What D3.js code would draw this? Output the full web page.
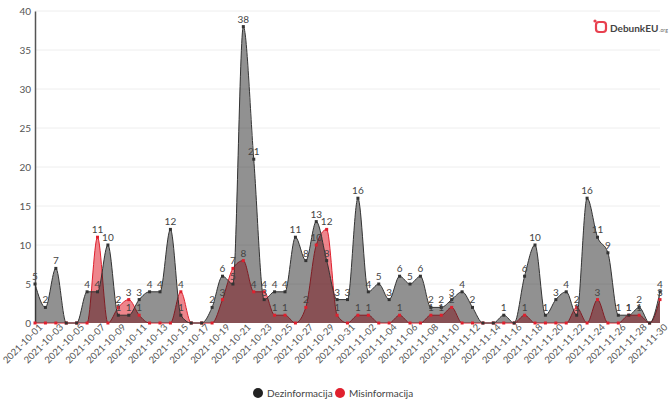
<!DOCTYPE html>
<html>
<head>
<meta charset="utf-8">
<script src="https://cdn.jsdelivr.net/npm/d3@7"></script>
<style>
  body { margin: 0; background: #fff; font-family: Lato, "Open Sans", sans-serif; }
  svg text { font-family: Lato, "Open Sans", sans-serif; }
</style>
</head>
<body>
<div id="chart"></div>
<script>
var width = 670;
var height = 402;
var margin = {top: 11, left: 35, right: 10, bottom: 79};

var startDate = "2021-10-01";
var dezinformacija = [5, 2, 7, 0, 0, 4, 4, 10, 1, 1, 3, 4, 4, 12, 1, 0, 0, 2, 6, 5,
                      38, 21, 3, 4, 4, 11, 8, 13, 8, 3, 3, 16, 4, 5, 3, 6, 5, 6, 2, 2,
                      3, 4, 2, 0, 0, 1, 0, 6, 10, 1, 3, 4, 1, 16, 11, 9, 1, 1, 2, 0, 4];
var misinformacija = [0, 0, 0, 0, 0, 0, 11, 0, 2, 3, 1, 0, 0, 0, 4, 0, 0, 0, 3, 7,
                      8, 4, 4, 1, 1, 0, 2, 10, 12, 1, 0, 1, 1, 0, 0, 1, 0, 0, 1, 1,
                      2, 0, 0, 0, 0, 0, 0, 1, 0, 0, 0, 0, 2, 0, 3, 0, 0, 1, 1, 0, 3];
var yTicks = [0, 5, 10, 15, 20, 25, 30, 35, 40];
var seriesNames = ["Dezinformacija", "Misinformacija"];

var parse = d3.timeParse("%Y-%m-%d");
var fmt = d3.timeFormat("%Y-%m-%d");
var dates = dezinformacija.map(function(d, i) { return d3.timeDay.offset(parse(startDate), i); });

var svg = d3.select("#chart").append("svg")
  .attr("width", width)
  .attr("height", height);

var xScale = d3.scaleTime()
  .domain(d3.extent(dates))
  .range([margin.left, 660]);
var yScale = d3.scaleLinear()
  .domain([0, 40])
  .range([height - margin.bottom, margin.top]);

// grid
svg.append("g").selectAll("line")
  .data(yTicks.slice(1))
  .enter().append("line")
    .attr("x1", margin.left)
    .attr("x2", width - margin.right)
    .attr("y1", function(d) { return yScale(d); })
    .attr("y2", function(d) { return yScale(d); })
    .attr("stroke", "#eeeeee");

var yAxis = svg.append("g")
  .attr("transform", `translate(${margin.left},0)`)
  .call(d3.axisLeft(yScale).tickValues(yTicks).tickSize(0).tickPadding(4));
yAxis.select(".domain").attr("stroke", "#555").attr("stroke-width", 1.5);
yAxis.selectAll("text").attr("fill", "#555").attr("font-size", 10);

var xTicks = dates.filter(function(d, i) { return i % 2 == 0; });
var xAxis = svg.append("g")
  .attr("transform", `translate(0,${height - margin.bottom})`)
  .call(d3.axisBottom(xScale).tickValues(xTicks).tickFormat(fmt).tickSize(0).tickPadding(6));
xAxis.select(".domain").remove();
xAxis.selectAll("text")
  .attr("fill", "#555")
  .attr("font-size", 9.5)
  .attr("text-anchor", "end")
  .attr("dx", "0.2em")
  .attr("dy", "0.3em")
  .attr("transform", "rotate(-45)");

var area = d3.area()
  .curve(d3.curveMonotoneX)
  .x(function(d, i) { return xScale(dates[i]); })
  .y0(yScale(0))
  .y1(function(d) { return yScale(d); });
var line = d3.line()
  .curve(d3.curveMonotoneX)
  .x(function(d, i) { return xScale(dates[i]); })
  .y(function(d) { return yScale(d); });

var series = [
  {name: seriesNames[1], values: misinformacija, fill: "#e0202e", fillOpacity: 0.55, stroke: "#e0202e"},
  {name: seriesNames[0], values: dezinformacija, fill: "#1a1a1a", fillOpacity: 0.48, stroke: "#333333"}
];

series.forEach(function(s) {
  svg.append("path")
    .datum(s.values)
    .attr("d", area)
    .attr("fill", s.fill)
    .attr("fill-opacity", s.fillOpacity);
  svg.append("path")
    .datum(s.values)
    .attr("d", line)
    .attr("fill", "none")
    .attr("stroke", s.stroke)
    .attr("stroke-width", 1);
});

series.forEach(function(s) {
  svg.append("g").selectAll("rect")
    .data(s.values)
    .enter().append("rect")
      .attr("x", function(d, i) { return xScale(dates[i]) - 1.5; })
      .attr("y", function(d) { return yScale(d) - 1.5; })
      .attr("width", 3)
      .attr("height", 3)
      .attr("fill", s.stroke);
});

// value labels (zeros are not labelled)
series.forEach(function(s) {
  var pts = s.values.map(function(v, i) { return {v: v, date: dates[i]}; })
    .filter(function(p) { return p.v > 0; });
  svg.append("g").selectAll("text")
    .data(pts)
    .enter().append("text")
      .attr("x", function(p) { return xScale(p.date); })
      .attr("y", function(p) { return yScale(p.v) - 4; })
      .attr("text-anchor", "middle")
      .attr("font-size", 10)
      .attr("fill", "#444")
      .text(function(p) { return p.v; });
});

// legend
var legend = svg.append("g")
  .attr("transform", `translate(${width / 2 - 82},393)`);
var legItem = legend.selectAll("g")
  .data([{name: seriesNames[0], color: "#222"}, {name: seriesNames[1], color: "#e0202e"}])
  .enter().append("g")
    .attr("transform", function(d, i) { return `translate(${i * 82},0)`; });
legItem.append("circle")
  .attr("r", 5)
  .attr("cx", 5)
  .attr("fill", function(d) { return d.color; });
legItem.append("text")
  .attr("x", 14)
  .attr("dy", "0.35em")
  .attr("font-size", 10)
  .attr("fill", "#444")
  .text(function(d) { return d.name; });

// logo
var logo = svg.append("g").attr("transform", "translate(596,28)");
logo.append("rect")
  .attr("x", 0).attr("y", -6).attr("width", 10).attr("height", 10).attr("rx", 3)
  .attr("fill", "none").attr("stroke", "#e8404f").attr("stroke-width", 2.2);
logo.append("circle").attr("cx", -1).attr("cy", -7).attr("r", 1.6).attr("fill", "#e8404f");
var logoText = logo.append("text")
  .attr("x", 14).attr("y", 4)
  .attr("font-size", 10).attr("font-weight", "bold").attr("fill", "#444")
  .text("DebunkEU");
var tw = logoText.node().getComputedTextLength();
logo.append("text")
  .attr("x", 14 + tw + 1).attr("y", 4)
  .attr("font-size", 5).attr("fill", "#666")
  .text(".org");
</script>
</body>
</html>
